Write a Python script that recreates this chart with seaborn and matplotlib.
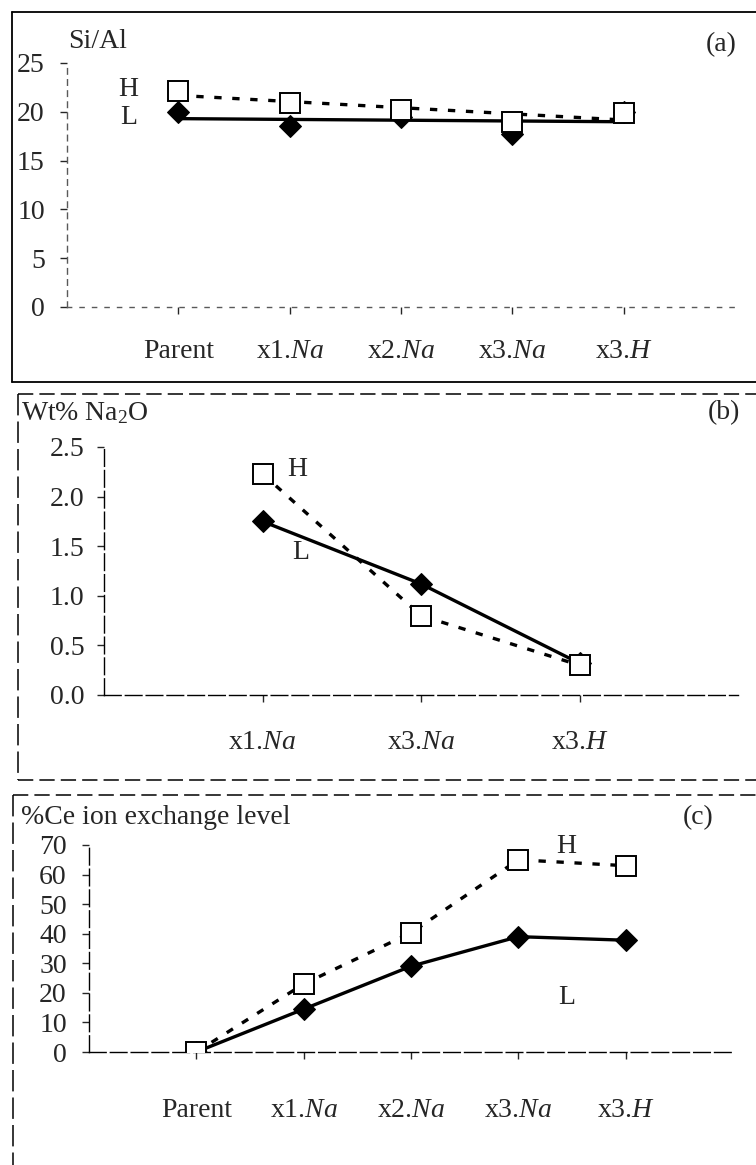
import numpy as np
import pandas as pd
import matplotlib
matplotlib.use("Agg")
import matplotlib.pyplot as plt
from matplotlib.lines import Line2D
import seaborn as sns

# ---------------- data ----------------
cats5 = ["Parent", "x1.Na", "x2.Na", "x3.Na", "x3.H"]
sial_L = [20.0, 18.5, 19.5, 17.7, 20.0]
sial_H = [22.1, 20.9, 20.2, 19.0, 19.9]

cats3 = ["x1.Na", "x3.Na", "x3.H"]
na2o_L = [1.75, 1.12, 0.32]
na2o_H = [2.23, 0.80, 0.30]

ce_L = [0.0, 14.5, 29.0, 39.0, 37.8]
ce_H = [0.0, 23.0, 40.3, 65.0, 63.0]

yticks_a = [0, 5, 10, 15, 20, 25]
yticks_b = [0.0, 0.5, 1.0, 1.5, 2.0, 2.5]
yticks_c = [0, 10, 20, 30, 40, 50, 60, 70]

# ---------------- style ----------------
sns.set_style("ticks")
plt.rcParams["font.family"] = ["Liberation Serif", "DejaVu Serif"]
plt.rcParams["mathtext.fontset"] = "custom"
plt.rcParams["mathtext.rm"] = "Liberation Serif"
plt.rcParams["mathtext.it"] = "Liberation Serif:italic"

W, H = 756, 1165
fig = plt.figure(figsize=(W / 100, H / 100), dpi=100)
FS = 20


def rect(l, t, r, b):
    return [l / W, 1 - b / H, (r - l) / W, (b - t) / H]


def fmt_cat(c):
    if "." not in c:
        return c
    a, b = c.split(".")
    return a + "." + r"$\mathit{" + b + "}$"


def cat_labels(cats):
    return [fmt_cat(c) for c in cats]


def style_axes(ax, ypad, xpad):
    sns.despine(ax=ax)
    for s in ("left", "bottom"):
        ax.spines[s].set_color("black")
        ax.spines[s].set_linewidth(1.0)
        ax.spines[s].set_linestyle((0, (12, 3)))
    ax.tick_params(axis="y", direction="out", length=5, width=1, labelsize=FS, pad=ypad)
    ax.tick_params(axis="x", direction="out", length=5, width=1, labelsize=FS, pad=xpad)
    ax.set_xlabel("")
    ax.set_ylabel("")
    ax.set_facecolor("none")


def fline(x0, y0, x1, y1, ls="-", lw=1.3):
    fig.add_artist(Line2D([x0 / W, x1 / W], [1 - y0 / H, 1 - y1 / H],
                          transform=fig.transFigure, color="black", lw=lw, ls=ls))


sq_kw = dict(marker="s", markersize=14, markerfacecolor="white",
             markeredgecolor="black", markeredgewidth=1.4)
dm_kw = dict(marker="D", markersize=11, markerfacecolor="black",
             markeredgecolor="black")

# ---------------- panel (a) ----------------
ax1 = fig.add_axes(rect(67, 63, 735, 307))
x5 = np.arange(1, len(cats5) + 1)
dfa = pd.DataFrame({"x": x5, "L": sial_L, "H": sial_H})
sns.regplot(data=dfa, x="x", y="L", ax=ax1, scatter=False, ci=None, truncate=True,
            line_kws=dict(color="black", lw=2.4, ls="-", zorder=2))
sns.regplot(data=dfa, x="x", y="H", ax=ax1, scatter=False, ci=None, truncate=True,
            line_kws=dict(color="black", lw=2.4, ls=(0, (2.2, 3.2)), zorder=2))
sns.lineplot(data=dfa, x="x", y="L", ax=ax1, color="black", linestyle="none", zorder=3, **dm_kw)
sns.lineplot(data=dfa, x="x", y="H", ax=ax1, color="black", linestyle="none", zorder=4, **sq_kw)
ax1.set_xlim(0, 6)
ax1.set_ylim(0, 25)
ax1.set_yticks(yticks_a)
ax1.set_xticks(x5)
ax1.set_xticklabels(cat_labels(cats5))
style_axes(ax1, ypad=11, xpad=18)
ax1.spines["left"].set_linestyle((0, (4, 4)))
ax1.spines["bottom"].set_linestyle((0, (3, 6)))
ax1.spines["left"].set_color("0.35")
ax1.spines["bottom"].set_color("0.35")
ax1.text(0.55, 22.3, "H", fontsize=FS, ha="center", va="center")
ax1.text(0.55, 19.4, "L", fontsize=FS, ha="center", va="center")
fig.text(68 / W, 1 - 42 / H, "Si/Al", fontsize=FS, ha="left", va="center")
fig.text(737 / W, 1 - 45 / H, "(a)", fontsize=FS, ha="right", va="center")
# frame (a)
fline(12, 12, 756, 12)
fline(12, 12, 12, 382)
fline(12, 382, 756, 382)

# ---------------- panel (b) ----------------
ax2 = fig.add_axes(rect(104, 447, 738, 695))
x3 = np.arange(1, len(cats3) + 1)
dfb = pd.DataFrame({"x": x3, "L": na2o_L, "H": na2o_H})
sns.lineplot(data=dfb, x="x", y="L", ax=ax2, color="black", lw=2.4, ls="-", zorder=3, **dm_kw)
sns.lineplot(data=dfb, x="x", y="H", ax=ax2, color="black", lw=2.4, ls=(0, (2.2, 3.2)), zorder=4, **sq_kw)
ax2.set_xlim(0, 4)
ax2.set_ylim(0, 2.5)
ax2.set_yticks(yticks_b)
ax2.set_yticklabels([f"{v:.1f}" for v in yticks_b])
ax2.set_xticks(x3)
ax2.set_xticklabels(cat_labels(cats3))
style_axes(ax2, ypad=9, xpad=20)
ax2.text(1.22, 2.27, "H", fontsize=FS, ha="center", va="center")
ax2.text(1.24, 1.44, "L", fontsize=FS, ha="center", va="center")
fig.text(21 / W, 1 - 413 / H, "Wt% Na$_2$O", fontsize=FS, ha="left", va="center")
fig.text(740 / W, 1 - 413 / H, "(b)", fontsize=FS, ha="right", va="center")
fline(18, 394, 756, 394, ls=(0, (10, 4)), lw=1.1)
fline(18, 394, 18, 780, ls=(0, (14, 4)), lw=1.1)
fline(18, 780, 756, 780, ls=(0, (10, 4)), lw=1.1)

# ---------------- panel (c) ----------------
ax3 = fig.add_axes(rect(89, 845, 733, 1052))
dfc = pd.DataFrame({"x": x5, "L": ce_L, "H": ce_H})
sns.lineplot(data=dfc, x="x", y="L", ax=ax3, color="black", lw=2.4, ls="-", zorder=3, **dm_kw)
sns.lineplot(data=dfc, x="x", y="H", ax=ax3, color="black", lw=2.4, ls=(0, (2.2, 3.2)), zorder=4, **sq_kw)
ax3.set_xlim(0, 6)
ax3.set_ylim(0, 70)
ax3.set_yticks(yticks_c)
ax3.set_xticks(x5)
ax3.set_xticklabels(cat_labels(cats5))
style_axes(ax3, ypad=11, xpad=28)
ax3.text(4.45, 69.5, "H", fontsize=FS, ha="center", va="center")
ax3.text(4.45, 18.3, "L", fontsize=FS, ha="center", va="center")
fig.text(21 / W, 1 - 818 / H, "%Ce ion exchange level", fontsize=FS, ha="left", va="center")
fig.text(713 / W, 1 - 818 / H, "(c)", fontsize=FS, ha="right", va="center")
fline(13, 795, 756, 795, ls=(0, (10, 4)), lw=1.1)
fline(13, 795, 13, 1165, ls=(0, (14, 4)), lw=1.1)

fig.savefig("out.png", dpi=100)
